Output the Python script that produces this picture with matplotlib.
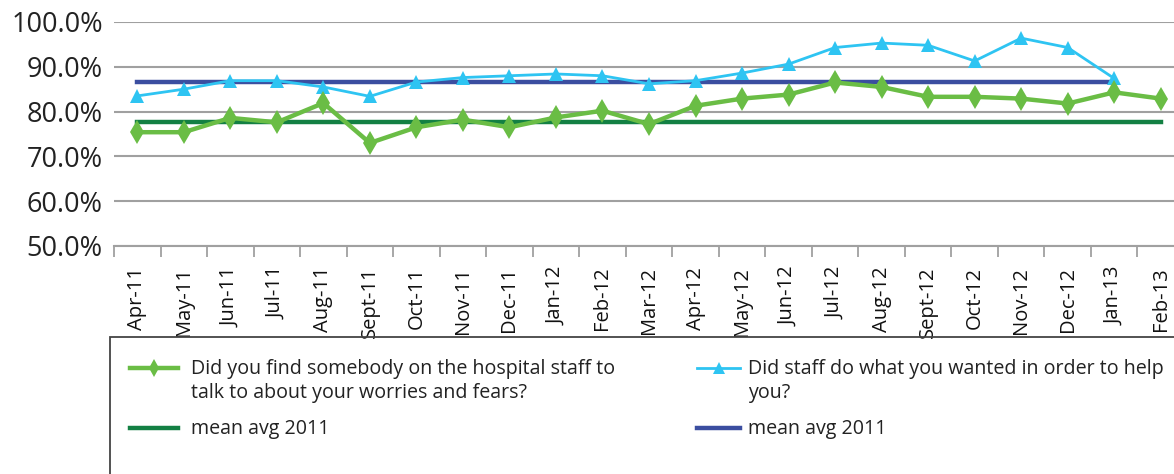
"""Patient survey: two questions by month, with 2011 mean lines."""

import matplotlib
matplotlib.use('Agg')

import matplotlib.pyplot as plt
import matplotlib.patches as patches
from matplotlib.lines import Line2D
import numpy as np

plt.rcParams['font.family'] = ['Open Sans', 'DejaVu Sans']

# ── Data ──────────────────────────────────────────────────────────────────────
months = ['Apr-11', 'May-11', 'Jun-11', 'Jul-11', 'Aug-11', 'Sept-11', 'Oct-11',
          'Nov-11', 'Dec-11', 'Jan-12', 'Feb-12', 'Mar-12', 'Apr-12', 'May-12',
          'Jun-12', 'Jul-12', 'Aug-12', 'Sept-12', 'Oct-12', 'Nov-12', 'Dec-12',
          'Jan-13', 'Feb-13']

worries = [75.4, 75.4, 78.6, 77.6, 81.9, 73.0, 76.5, 78.2, 76.5, 78.7, 80.2,
           77.2, 81.3, 82.9, 83.8, 86.5, 85.5, 83.3, 83.3, 82.9, 81.8, 84.3, 82.9]

helped = [83.5, 85.0, 86.9, 86.9, 85.5, 83.4, 86.6, 87.6, 88.0, 88.4, 88.0,
          86.2, 86.9, 88.6, 90.6, 94.3, 95.3, 94.8, 91.3, 96.4, 94.3, 87.4]

worries_mean = 77.6
helped_mean = 86.5

label_worries = 'Did you find somebody on the hospital staff to\ntalk to about your worries and fears?'
label_helped = 'Did staff do what you wanted in order to help\nyou?'
label_mean = 'mean avg 2011'

C_WORRIES = '#6abd45'
C_HELPED = '#2ec4f2'
C_WMEAN = '#138043'
C_HMEAN = '#3b4ea0'

# ── Figure ────────────────────────────────────────────────────────────────────
W, H = 1174, 474
fig = plt.figure(figsize=(W / 100, H / 100), dpi=100)
ax = fig.add_axes([114 / W, 1 - 246 / H, (1184 - 114) / W, (246 - 22) / H])

x = np.arange(len(months))
xh = np.arange(len(helped))

ax.plot(x, [worries_mean] * len(x), color=C_WMEAN, lw=3.2, zorder=3)
ax.plot(xh, [helped_mean] * len(xh), color=C_HMEAN, lw=3.2, zorder=3)
ax.plot(xh, helped, color=C_HELPED, lw=2.0, marker='^', markersize=10,
        markeredgewidth=0, zorder=4)
ax.plot(x, worries, color=C_WORRIES, lw=3.2, marker='d', markersize=12,
        markeredgewidth=0, zorder=5)

ax.set_xlim(-0.5, len(months) - 0.5)
ax.set_ylim(50, 100)
ax.set_yticks(np.arange(50, 101, 10))
ax.set_yticklabels([f'{v:.1f}%' for v in np.arange(50, 101, 10)], fontsize=19.5, color='#222222')
ax.yaxis.grid(True, color='#a0a0a0', lw=1.5)
ax.set_axisbelow(True)
ax.tick_params(axis='y', length=0, pad=8)

ax.set_xticks(x)
ax.set_xticklabels(months, rotation=90, fontsize=14.5, color='#111111')
ax.set_xticks(np.arange(-0.5, len(months), 1), minor=True)
ax.tick_params(axis='x', which='major', length=0, pad=15)
ax.tick_params(axis='x', which='minor', length=8, width=1.3, color='#a0a0a0', direction='out')

for s in ['top', 'right', 'left']:
    ax.spines[s].set_visible(False)
ax.spines['bottom'].set_color('#a0a0a0')
ax.spines['bottom'].set_linewidth(1.5)

# ── Legend (drawn by hand so handles line up with the first text line) ───────
fig.add_artist(patches.Rectangle((110 / W, -0.1), 1.0, 1.1 - 337 / H,
                                 transform=fig.transFigure, fill=False,
                                 edgecolor='#444444', lw=1.3))


def legend_entry(x0, x1, y, color, lw, marker, ms, text, tx):
    fy = 1 - y / H
    fig.add_artist(Line2D([x0 / W, x1 / W], [fy, fy], color=color, lw=lw,
                          transform=fig.transFigure))
    if marker:
        fig.add_artist(Line2D([(x0 + x1) / 2 / W], [fy], color=color, marker=marker,
                              markersize=ms, markeredgewidth=0, transform=fig.transFigure))
    fig.text(tx / W, fy + 9 / H, text, fontsize=14.1, va='top', ha='left',
             color='#222222', linespacing=1.25)


legend_entry(130, 178, 368, C_WORRIES, 3.2, 'd', 9, label_worries, 191)
legend_entry(697, 740, 368, C_HELPED, 2.0, '^', 8, label_helped, 748)
legend_entry(130, 178, 428, C_WMEAN, 3.2, None, 0, label_mean, 191)
legend_entry(697, 740, 428, C_HMEAN, 3.2, None, 0, label_mean, 748)

fig.savefig('out.png', dpi=100)
